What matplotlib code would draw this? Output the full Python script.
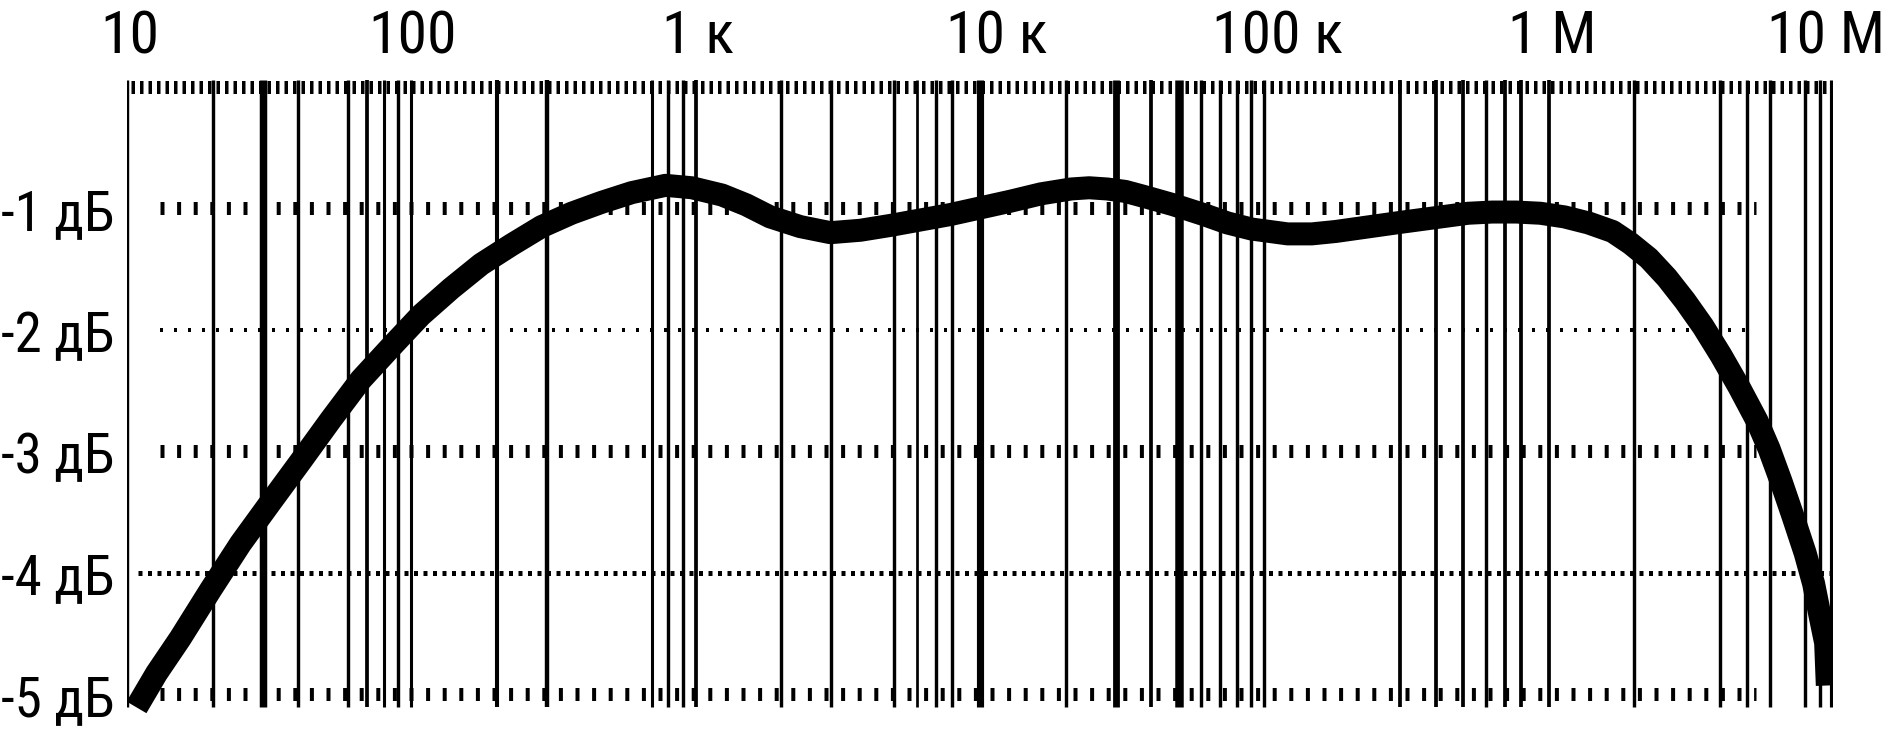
import os
import matplotlib
matplotlib.use("Agg")
import matplotlib.pyplot as plt
from matplotlib import font_manager
import matplotlib.transforms as mtransforms

# ---------------- data ----------------
freq_hz = [10.8, 12.7, 15.4, 19.7, 25.1, 32.0, 40.9, 52.1, 66.5, 84.9, 108,
           138, 176, 225, 287, 366, 467, 596, 783, 970, 1238, 1504, 1828,
           2333, 2977, 3797, 4845, 7886, 12840, 16385, 20906, 24192, 28000,
           32407, 37510, 47863, 61072, 74213, 90194, 120800, 146800, 178400,
           290400, 389000, 521200, 633400, 769600, 935300, 1136600, 1381000,
           1678800, 1943000, 2248000, 2602000, 3013000, 3486000, 4035000,
           4670000, 5405000, 5959000, 6569000, 7242000, 7983000, 8545000,
           8975000, 9422000, 9550000]
gain_db = [-5.11, -4.83, -4.54, -4.14, -3.76, -3.42, -3.08, -2.74, -2.41,
           -2.14, -1.88, -1.66, -1.46, -1.30, -1.15, -1.04, -0.95, -0.87,
           -0.81, -0.83, -0.89, -0.97, -1.07, -1.15, -1.20, -1.18, -1.14,
           -1.05, -0.94, -0.88, -0.84, -0.83, -0.84, -0.86, -0.90, -0.97,
           -1.05, -1.12, -1.17, -1.21, -1.21, -1.19, -1.12, -1.08, -1.04,
           -1.03, -1.03, -1.04, -1.07, -1.12, -1.19, -1.29, -1.41, -1.57,
           -1.76, -1.97, -2.21, -2.47, -2.75, -2.98, -3.25, -3.54, -3.84,
           -4.09, -4.34, -4.58, -4.93]

# vertical grid lines (frequency, relative weight)
grid_freqs = [10, 20, 30, 40, 60, 70, 80, 90, 100,
              200, 300, 700, 800, 900, 1000,
              2000, 3000, 5000, 6000, 7000, 8000, 10000,
              20000, 30000, 40000, 50000, 60000, 70000, 80000, 90000, 100000,
              300000, 400000, 500000, 600000, 700000, 800000, 1000000,
              2000000, 4000000, 5000000, 6000000, 8000000, 9000000, 10000000]
grid_weight = [1, 1, 2.2, 1, 1, 1.1, 0.9, 1, 0.9,
               1.2, 1.3, 0.9, 1, 1, 1.1,
               1, 1, 1, 0.8, 1, 1, 2.1,
               1, 2, 1.1, 2.5, 1, 1, 1, 1, 1,
               1.1, 1.1, 1.1, 1, 1.1, 1.1, 1.1,
               1, 1, 1, 1, 1, 1, 2.1]

x_ticks = [10, 100, 1000, 10000, 100000, 1000000, 10000000]
x_tick_labels = ["10", "100", "1 к", "10 к", "100 к", "1 M", "10 M"]
y_ticks = [-1, -2, -3, -4, -5]
y_tick_labels = ["-1 дБ", "-2 дБ", "-3 дБ", "-4 дБ", "-5 дБ"]
row_levels = [0, -1, -2, -3, -4, -5]

# ---------------- layout / style ----------------
plt.rcParams['lines.scale_dashes'] = False
W, H, DPI = 1886, 731, 100
PX = 72.0 / DPI  # points per pixel

# pick the narrowest sans font that is installed
patterns = ['liberationsansnarrow-regular', 'notosans-extracondensed.ttf',
            'notosans-condensed.ttf', 'robotocondensed-regular',
            'roboto_condensed-regular', 'opensans-condensed-regular',
            'opensans_condensed-regular', 'dejavusanscondensed.ttf']
chosen = None
files = [fe.fname for fe in font_manager.fontManager.ttflist]
for pat in patterns:
    for fn in files:
        if os.path.basename(fn).lower() == pat or \
                (pat.endswith('regular') and pat in os.path.basename(fn).lower()):
            chosen = fn
            break
    if chosen:
        break
if chosen:
    fp = font_manager.FontProperties(fname=chosen)
else:
    fp = font_manager.FontProperties(family=['Liberation Sans', 'DejaVu Sans'])

fig = plt.figure(figsize=(W / DPI, H / DPI), dpi=DPI)

x0, x1 = 127, 1833          # 10 Hz .. 10 MHz in pixels
ppd = (694 - 87) / 5.0       # pixels per dB, 0 dB at y=87
ytop, ybot = 0.1, -5.25
top_px = 87 - ytop * ppd
bot_px = 87 - ybot * ppd
ax = fig.add_axes([x0 / W, 1 - bot_px / H, (x1 - x0) / W, (bot_px - top_px) / H])
ax.set_xscale('log')
ax.set_xlim(10, 1e7)
ax.set_ylim(ybot, ytop)
ax.set_xticks([])
ax.set_yticks([])
ax.xaxis.set_minor_locator(matplotlib.ticker.NullLocator())
for s in ax.spines.values():
    s.set_visible(False)


def px2f(xp):
    return 10 ** (1 + (xp - x0) / (x1 - x0) * 6)


# vertical grid
vtop = (87 - 80) / ppd
vbot = -(707 - 87) / ppd
for f, w in zip(grid_freqs, grid_weight):
    ax.vlines(f, vbot, vtop, colors='black', linewidth=3.4 * PX * w, zorder=1)

# horizontal dotted rows
row_style = {
    0: dict(lw=13, on=3.5, off=5.0, xa=131, xb=1840),
    -1: dict(lw=13, on=4.0, off=12.6, xa=160, xb=1756),
    -2: dict(lw=4, on=3.0, off=11.0, xa=160, xb=1756),
    -3: dict(lw=13, on=4.0, off=12.6, xa=160, xb=1756),
    -4: dict(lw=5, on=4.0, off=5.5, xa=138, xb=1840),
    -5: dict(lw=13, on=4.0, off=12.6, xa=160, xb=1756),
}
for lvl in row_levels:
    st = row_style[lvl]
    ax.plot([px2f(st['xa']), px2f(st['xb'])], [lvl, lvl], color='black',
            linewidth=st['lw'] * PX, dashes=(st['on'] * PX, st['off'] * PX),
            solid_capstyle='butt', dash_capstyle='butt', zorder=1)

# curve
ax.plot(freq_hz, gain_db, color='black', linewidth=23 * PX,
        solid_capstyle='butt', solid_joinstyle='round', zorder=3)

# labels ----------------------------------------------------------
renderer = fig.canvas.get_renderer()
# digits ~43 px tall on the top row
fsize_x = 43.0
# left labels: as large as fits between the picture edge and x=114 px
fsize_y = 43.0
probe = fig.text(0, 0, y_tick_labels[0], fontproperties=fp, fontsize=fsize_y)
wpx = probe.get_window_extent(renderer).width
probe.remove()
if wpx > 113:
    fsize_y = fsize_y * 113.0 / wpx

x_label_dx = [3, 1, 2, 17, 13, 4, 8]       # pixel nudges of the top labels
base_x = 53                                 # baseline of top labels (px from top)
xtexts = []
for f, lab, dx in zip(x_ticks, x_tick_labels, x_label_dx):
    tr = mtransforms.blended_transform_factory(ax.transData, fig.transFigure) + \
        mtransforms.ScaledTranslation(dx / DPI, 0, fig.dpi_scale_trans)
    t = ax.text(f, 1 - base_x / H, lab, transform=tr, ha='center', va='baseline',
                fontproperties=fp, fontsize=fsize_x, clip_on=False)
    xtexts.append((t, f, dx))
# keep the first and last labels inside the picture
for t, f, dx in (xtexts[0], xtexts[-1]):
    bb = t.get_window_extent(renderer)
    if bb.x1 > W - 1:
        dx -= (bb.x1 - (W - 1))
    if bb.x0 < 1:
        dx += (1 - bb.x0)
    t.set_transform(mtransforms.blended_transform_factory(ax.transData, fig.transFigure) +
                    mtransforms.ScaledTranslation(dx / DPI, 0, fig.dpi_scale_trans))

for lvl, lab in zip(y_ticks, y_tick_labels):
    tr = mtransforms.blended_transform_factory(fig.transFigure, ax.transData) + \
        mtransforms.ScaledTranslation(0, -22 / DPI, fig.dpi_scale_trans)
    ax.text(114 / W, lvl, lab, transform=tr, ha='right', va='baseline',
            fontproperties=fp, fontsize=fsize_y, clip_on=False)

fig.savefig('out.png', dpi=DPI)
